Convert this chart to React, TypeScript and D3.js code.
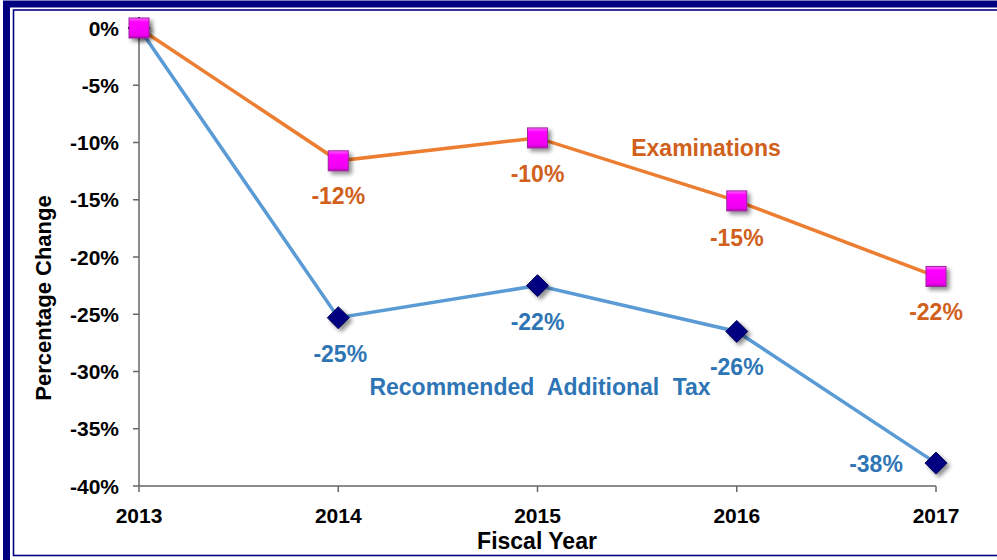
import React from 'react';
import * as d3 from 'd3';

const years = ['2013', '2014', '2015', '2016', '2017'];
const examinations = [0, -11.6, -9.6, -15.1, -21.7];
const examLabels = ['', '-12%', '-10%', '-15%', '-22%'];
const additionalTax = [0, -25.3, -22.5, -26.5, -38.0];
const taxLabels = ['', '-25%', '-22%', '-26%', '-38%'];
const yTicks = [0, -5, -10, -15, -20, -25, -30, -35, -40];

const W = 997;
const H = 560;
const font = 'Liberation Sans, Arial, sans-serif';

export default function App() {
  const x = d3.scalePoint<string>().domain(years).range([139, 936]);
  const y = d3.scaleLinear().domain([-40, 0]).range([486, 28]);

  const line = d3
    .line<number>()
    .x((_, i) => x(years[i]) as number)
    .y(d => y(d));

  // label offsets relative to the marker (dx, dy to baseline)
  const examOff = [[0, 0], [0, 43], [0, 44], [0, 45], [0, 44]];
  const taxOff = [[0, 0], [2, 44], [0, 44], [0, 44], [-60, 9]];

  return (
    <svg width={W} height={H} style={{ position: 'absolute', left: 0, top: 0 }}>
      <defs>
        <filter id="shadow" x="-50%" y="-50%" width="200%" height="200%">
          <feGaussianBlur in="SourceAlpha" stdDeviation="2" />
          <feOffset dx="3" dy="3" result="b" />
          <feComponentTransfer><feFuncA type="linear" slope="0.45" /></feComponentTransfer>
          <feMerge>
            <feMergeNode />
            <feMergeNode in="SourceGraphic" />
          </feMerge>
        </filter>
        <linearGradient id="sqGrad" x1="0" y1="0" x2="0" y2="1">
          <stop offset="0" stopColor="#ff66ff" />
          <stop offset="0.2" stopColor="#ff00ff" />
          <stop offset="0.85" stopColor="#f000f0" />
          <stop offset="1" stopColor="#b000b0" />
        </linearGradient>
      </defs>
      <rect x={0} y={0} width={W} height={H} fill="#fff" />
      {/* frame */}
      <rect x={6.5} y={4} width={W + 20} height={H + 20} fill="none" stroke="#000080" strokeWidth={7} />
      <rect x={13.5} y={10} width={W + 20} height={545.5} fill="none" stroke="#000080" strokeWidth={1.6} />

      {/* axes */}
      <g stroke="#666" strokeWidth={1.5}>
        <line x1={139} x2={139} y1={28} y2={486} />
        <line x1={139} x2={936} y1={486} y2={486} />
        {yTicks.map(t => (
          <line key={t} x1={133} x2={139} y1={y(t)} y2={y(t)} />
        ))}
        {years.map(yr => (
          <line key={yr} x1={x(yr)} x2={x(yr)} y1={486} y2={492} />
        ))}
      </g>
      <g fontFamily={font} fontWeight="bold" fontSize={21} fill="#000">
        {yTicks.map(t => (
          <text key={t} x={119} y={y(t)} dy="0.36em" textAnchor="end">
            {t}%
          </text>
        ))}
        {years.map(yr => (
          <text key={yr} x={x(yr)} y={523} textAnchor="middle">
            {yr}
          </text>
        ))}
        <text x={537} y={549} textAnchor="middle" fontSize={23}>Fiscal Year</text>
        <text transform="translate(51,298) rotate(-90)" textAnchor="middle" fontSize={22}>
          Percentage Change
        </text>
      </g>

      {/* lines */}
      <path d={line(additionalTax) || ''} fill="none" stroke="#5b9bd5" strokeWidth={3.5} />
      <path d={line(examinations) || ''} fill="none" stroke="#ed7d31" strokeWidth={3.5} />

      {/* markers */}
      {additionalTax.map((v, i) => {
        const cx = x(years[i]) as number;
        const cy = y(v);
        return (
          <g key={'t' + i} filter="url(#shadow)">
            <path
              d={`M${cx},${cy - 11}L${cx + 11},${cy}L${cx},${cy + 11}L${cx - 11},${cy}Z`}
              fill="#000080"
              stroke="#00005a"
              strokeWidth={1}
            />
          </g>
        );
      })}
      {examinations.map((v, i) => {
        const cx = x(years[i]) as number;
        const cy = y(v);
        return (
          <g key={'e' + i} filter="url(#shadow)">
            <rect x={cx - 10} y={cy - 10} width={20} height={20} fill="url(#sqGrad)" stroke="#a020a0" strokeWidth={1} />
          </g>
        );
      })}

      {/* data labels */}
      <g fontFamily={font} fontWeight="bold" fontSize={23}>
        {examinations.map((v, i) =>
          examLabels[i] ? (
            <text key={'el' + i} x={(x(years[i]) as number) + examOff[i][0]} y={y(v) + examOff[i][1]} fill="#d0601c" textAnchor="middle">
              {examLabels[i]}
            </text>
          ) : null
        )}
        {additionalTax.map((v, i) =>
          taxLabels[i] ? (
            <text key={'tl' + i} x={(x(years[i]) as number) + taxOff[i][0]} y={y(v) + taxOff[i][1]} fill="#2e75b6" textAnchor="middle">
              {taxLabels[i]}
            </text>
          ) : null
        )}
        <text x={706} y={156} fill="#d0601c" textAnchor="middle">Examinations</text>
        <text x={540} y={395} fill="#2e75b6" textAnchor="middle" wordSpacing={7}>
          Recommended Additional Tax
        </text>
      </g>
    </svg>
  );
}
